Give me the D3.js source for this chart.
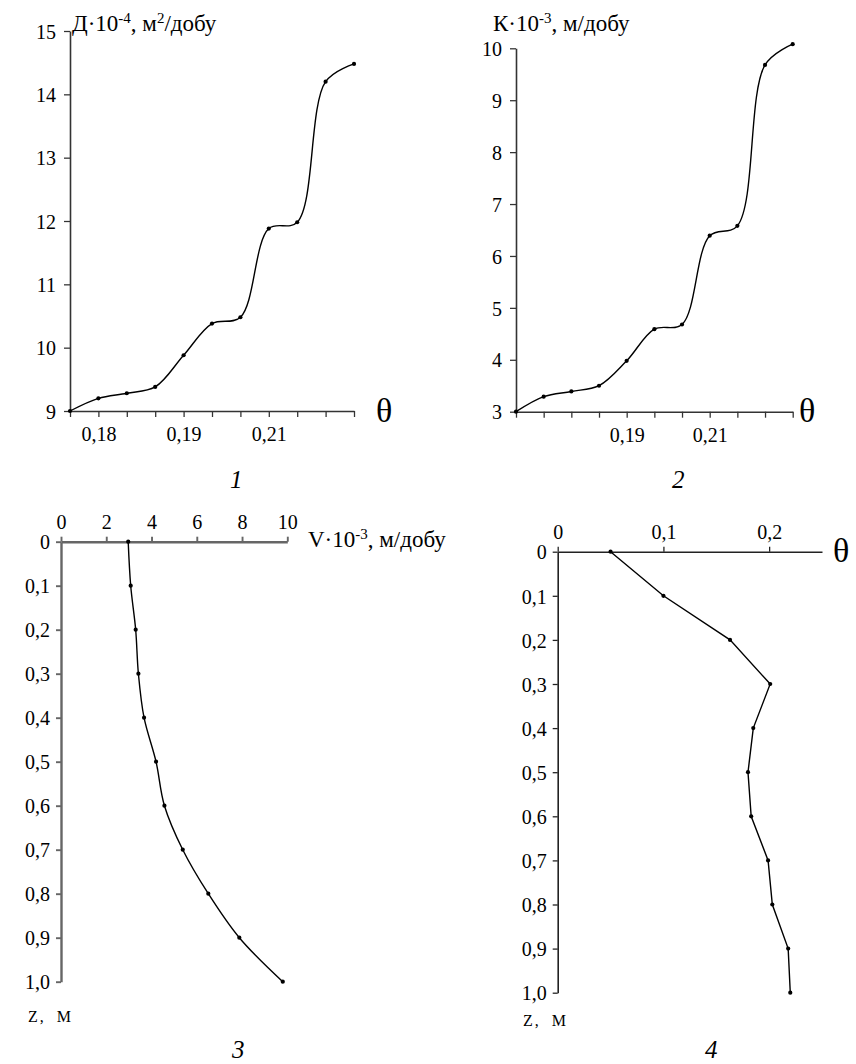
<!DOCTYPE html>
<html>
<head>
<meta charset="utf-8">
<script src="https://cdn.jsdelivr.net/npm/d3@7"></script>
<style>
  body { margin: 0; background: #fff; }
  text { font-family: "Liberation Serif", "Times New Roman", serif; fill: #000; }
</style>
</head>
<body>
<div id="svg-area"></div>
<script>
// chart 1 and 2: values vs theta (category positions 0..10)
var thetaIdx = [0,1,2,3,4,5,6,7,8,9,10];
var thetaLabels1 = ["", "0,18", "", "", "0,19", "", "", "0,21", "", "", ""];
var thetaLabels2 = ["", "", "", "", "0,19", "", "", "0,21", "", "", ""];
var dValues = [9.0, 9.2, 9.28, 9.38, 9.88, 10.38, 10.48, 11.88, 11.98, 14.2, 14.48]; // Д·10^-4
var kValues = [3.0, 3.29, 3.39, 3.5, 3.98, 4.59, 4.68, 6.39, 6.58, 9.68, 10.08];   // К·10^-3
var dTicks = [9,10,11,12,13,14,15];
var kTicks = [3,4,5,6,7,8,9,10];

// chart 3 and 4: profiles vs depth z
var depth = [0,0.1,0.2,0.3,0.4,0.5,0.6,0.7,0.8,0.9,1.0];
var vValues = [2.97, 3.08, 3.3, 3.42, 3.67, 4.2, 4.57, 5.38, 6.51, 7.88, 9.8];       // V·10^-3
var thValues = [0.05, 0.1, 0.163, 0.201, 0.185, 0.18, 0.183, 0.199, 0.203, 0.218, 0.22]; // θ
var vTicks = [0,2,4,6,8,10];
var thTicks = [0, 0.1, 0.2];
var zTicks = [0,0.1,0.2,0.3,0.4,0.5,0.6,0.7,0.8,0.9,1.0];

const W = 856, H = 1064;
const SERIF = "'Liberation Serif', 'Times New Roman', serif";
var comma = function(d) { return String(d).replace(".", ","); };
var zfmt = function(d) { return d3.format(".1f")(d).replace(".", ",").replace(/^0,0$/, "0"); };

var svg = d3.select("#svg-area").append("svg")
  .attr("width", W).attr("height", H)
  .attr("font-family", SERIF);

// title with superscripts
function title(x, y, parts) {
  var t = svg.append("text").attr("x", x).attr("y", y).style("font-size", "23px");
  parts.forEach(function(p) {
    var ts = t.append("tspan").text(p[0]);
    if (p[1]) ts.attr("dy", p[1]).style("font-size", "15px");
    if (p[2]) ts.attr("dy", p[2]);
  });
}

function styleAxis(g, color, width) {
  g.attr("font-family", SERIF).attr("font-size", 20);
  g.select(".domain").attr("stroke", color).attr("stroke-width", width);
  g.selectAll(".tick line").attr("stroke", color).attr("stroke-width", width * 0.8);
  g.selectAll(".tick text").style("font-family", SERIF)
    .style("font-size", "20px").attr("fill", "#000");
}

function dots(sel, data, x, y) {
  sel.selectAll(null).data(data).enter().append("circle")
    .attr("cx", function(d) { return x(d[0]); })
    .attr("cy", function(d) { return y(d[1]); })
    .attr("r", 2.1).attr("fill", "#000");
}

// ---- chart 1 and 2 (same shape) ----
function thetaChart(x0, x1, y0, y1, yDom, vals, ticks, labels) {
  var x = d3.scaleLinear().domain([0, 10]).range([x0, x1]);
  var y = d3.scaleLinear().domain(yDom).range([y0, y1]);
  var g = svg.append("g");
  var ax = g.append("g").attr("transform", "translate(0," + y0 + ")")
    .call(d3.axisBottom(x).tickValues(thetaIdx).tickSize(6).tickSizeOuter(0)
      .tickFormat(function(d, i) { return labels[i]; }));
  styleAxis(ax, "#333", 1.6);
  ax.selectAll(".tick text").attr("dy", "1.05em");
  var ay = g.append("g").attr("transform", "translate(" + x0 + ",0)")
    .call(d3.axisLeft(y).tickValues(ticks).tickSize(6).tickSizeOuter(0).tickPadding(8)
      .tickFormat(d3.format("d")));
  styleAxis(ay, "#333", 1.6);
  ay.selectAll(".tick text").attr("dy", "0.36em");
  var pts = thetaIdx.map(function(d, i) { return [d, vals[i]]; });
  g.append("path").datum(pts)
    .attr("d", d3.line().x(function(d) { return x(d[0]); }).y(function(d) { return y(d[1]); })
      .curve(d3.curveCatmullRom.alpha(0.5)))
    .attr("fill", "none").attr("stroke", "#000").attr("stroke-width", 1.4);
  dots(g, pts, x, y);
}

thetaChart(70, 354, 411, 31, [9, 15], dValues, dTicks, thetaLabels1);
thetaChart(516, 792.7, 411.7, 48.3, [3, 10], kValues, kTicks, thetaLabels2);

title(72, 31, [["Д·10"], ["-4", "-8"], [", м", null, "8"], ["2", "-8"], ["/добу", null, "8"]]);
title(493, 31, [["К·10"], ["-3", "-8"], [", м/добу", null, "8"]]);

svg.append("text").attr("x", 376).attr("y", 422).style("font-size", "34px").text("θ");
svg.append("text").attr("x", 799).attr("y", 422).style("font-size", "34px").text("θ");

// ---- chart 3 and 4 (depth profiles) ----
function depthChart(x0, x1, xDom, y0, y1, vals, xt, xf, color, wd, curve) {
  var x = d3.scaleLinear().domain(xDom).range([x0, x1]);
  var y = d3.scaleLinear().domain([0, 1]).range([y0, y1]);
  var g = svg.append("g");
  var ax = g.append("g").attr("transform", "translate(0," + y0 + ")")
    .call(d3.axisTop(x).tickValues(xt).tickSize(5).tickSizeOuter(0).tickPadding(8).tickFormat(xf));
  styleAxis(ax, color, wd);
  var ay = g.append("g").attr("transform", "translate(" + x0 + ",0)")
    .call(d3.axisLeft(y).tickValues(zTicks).tickSize(5).tickSizeOuter(0).tickPadding(6).tickFormat(zfmt));
  styleAxis(ay, color, wd);
  ay.selectAll(".tick text").attr("dy", "0.36em");
  var pts = depth.map(function(d, i) { return [vals[i], d]; });
  g.append("path").datum(pts)
    .attr("d", d3.line().x(function(d) { return x(d[0]); }).y(function(d) { return y(d[1]); }).curve(curve))
    .attr("fill", "none").attr("stroke", "#000").attr("stroke-width", 1.4);
  dots(g, pts, x, y);
}

depthChart(61, 287.3, [0, 10], 541.7, 981.7, vValues, vTicks, comma, "#666", 2.4, d3.curveCatmullRom.alpha(0.5));
depthChart(557.7, 822, [0, 0.25], 551.7, 992.7, thValues, thTicks, comma, "#222", 1.6, d3.curveLinear);

title(308, 547, [["V·10"], ["-3", "-8"], [", м/добу", null, "8"]]);
svg.append("text").attr("x", 833).attr("y", 562).style("font-size", "34px").text("θ");

// depth axis names, drawn as small capitals like the reference
[[28, 1022], [523, 1026]].forEach(function(p) {
  svg.append("text").attr("x", p[0]).attr("y", p[1]).style("font-size", "16px")
    .style("text-transform", "uppercase").style("letter-spacing", "2px")
    .style("word-spacing", "5px").text("z, м");
});

// panel numbers
var panels = [["1", 230, 488], ["2", 672, 488], ["3", 232, 1058], ["4", 705, 1058]];
panels.forEach(function(p) {
  svg.append("text").attr("x", p[1]).attr("y", p[2]).style("font-size", "25px")
    .style("font-style", "italic").text(p[0]);
});
</script>
</body>
</html>
